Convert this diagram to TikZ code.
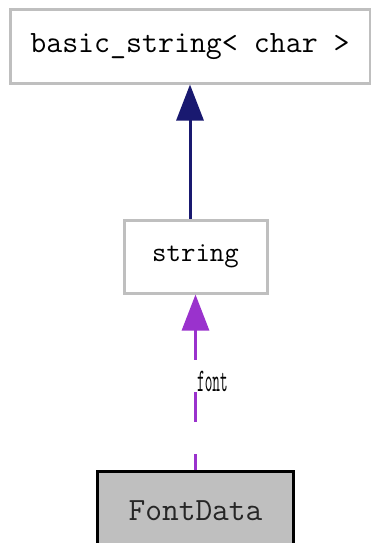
\documentclass[tikz,border=0pt]{standalone}
\usetikzlibrary{arrows.meta}
\definecolor{boxgray}{HTML}{BFBFBF}
\definecolor{navyedge}{HTML}{191970}
\definecolor{orchidedge}{HTML}{9A32CD}
\tikzset{
  cls/.style={draw=boxgray, fill=white, line width=3pt, rectangle, inner sep=0pt},
  selfcls/.style={draw=black, fill=boxgray, line width=3pt, rectangle, inner sep=0pt,
    text=black!85},
  inherit/.style={draw=navyedge, line width=3pt,
    -{Triangle[length=36pt,width=27pt,fill=navyedge]}},
  usage/.style={draw=orchidedge, line width=3pt, dash pattern=on 30pt off 32pt, dash phase=14pt,
    -{Triangle[length=36pt,width=27pt,fill=orchidedge]}},
  edgelabel/.style={font=\ttfamily\fontsize{33}{33}\selectfont, inner sep=0pt}
}
\begin{document}
\begin{tikzpicture}[x=1pt,y=-1pt]
  \useasboundingbox (0,0) rectangle (371,543);
  \node[cls, minimum width=360pt, minimum height=73pt,
    font=\ttfamily\fontsize{31}{31}\selectfont] (basic) at (190,46.5) {basic\_string< char >};
  \node[cls, minimum width=143pt, minimum height=73pt,
    font=\ttfamily\fontsize{28}{28}\selectfont] (str) at (195.5,256.5) {string};
  \node[selfcls, minimum width=196pt, minimum height=80pt,
    font=\ttfamily\fontsize{32.5}{32}\selectfont] (fd) at (195.5,511) {FontData};
  \draw[inherit] (str.north -| basic.south) -- (basic.south);
  \draw[usage] (fd.north -| str.south) -- (str.south);
  \node[edgelabel, anchor=west] (lbl) at (197,381) {\scalebox{0.45}[1]{font}};
\end{tikzpicture}
\end{document}
